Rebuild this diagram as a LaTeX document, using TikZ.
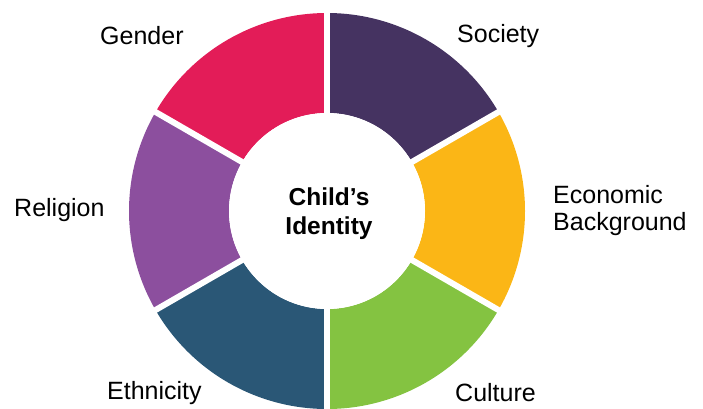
\documentclass[tikz,border=0pt]{standalone}
\usepackage{fontspec}
\setmainfont{Liberation Sans}
\usetikzlibrary{calc}
\definecolor{cSociety}{HTML}{453361}
\definecolor{cEcon}{HTML}{FBB616}
\definecolor{cCulture}{HTML}{84C341}
\definecolor{cEthnic}{HTML}{2A5776}
\definecolor{cReligion}{HTML}{8C4F9E}
\definecolor{cGender}{HTML}{E31C58}
\begin{document}
\begin{tikzpicture}[x=1pt,y=1pt,
  lbl/.style={font=\fontsize{25}{27}\selectfont, inner sep=0pt, text=black},
  ctr/.style={font=\fontsize{24.5}{29}\selectfont\bfseries, align=center, inner sep=0pt},
  gapline/.style={white, line width=6pt}]
\useasboundingbox (0,0) rectangle (703,408);
\coordinate (c) at (327,197);
\def\Ro{198}
\def\Ri{98}
\foreach \a/\b/\col in {30/90/cSociety, -30/30/cEcon, -90/-30/cCulture, 210/270/cEthnic, 150/210/cReligion, 90/150/cGender}{
  \fill[\col] ($(c)+(\a:\Ro)$) arc[start angle=\a, end angle=\b, radius=\Ro]
     -- ($(c)+(\b:\Ri)$) arc[start angle=\b, end angle=\a, radius=\Ri] -- cycle;
}
\foreach \a in {30,90,150,210,270,330}{
  \draw[gapline] (c) -- ++(\a:\Ro+5);
}
\fill[white] (c) circle[radius=\Ri];
\node[ctr] (center) at (329,194) {Child’s\\Identity};
\node[lbl, anchor=west] (gender) at (100,372) {Gender};
\node[lbl, anchor=west] (society) at (457,372) {Society};
\node[lbl, anchor=west, align=left] (econ) at (553,197) {Economic\\Background};
\node[lbl, anchor=west] (religion) at (14,198) {Religion};
\node[lbl, anchor=west] (ethnicity) at (107,15) {Ethnicity};
\node[lbl, anchor=west] (culture) at (455,15) {Culture};
\end{tikzpicture}
\end{document}
